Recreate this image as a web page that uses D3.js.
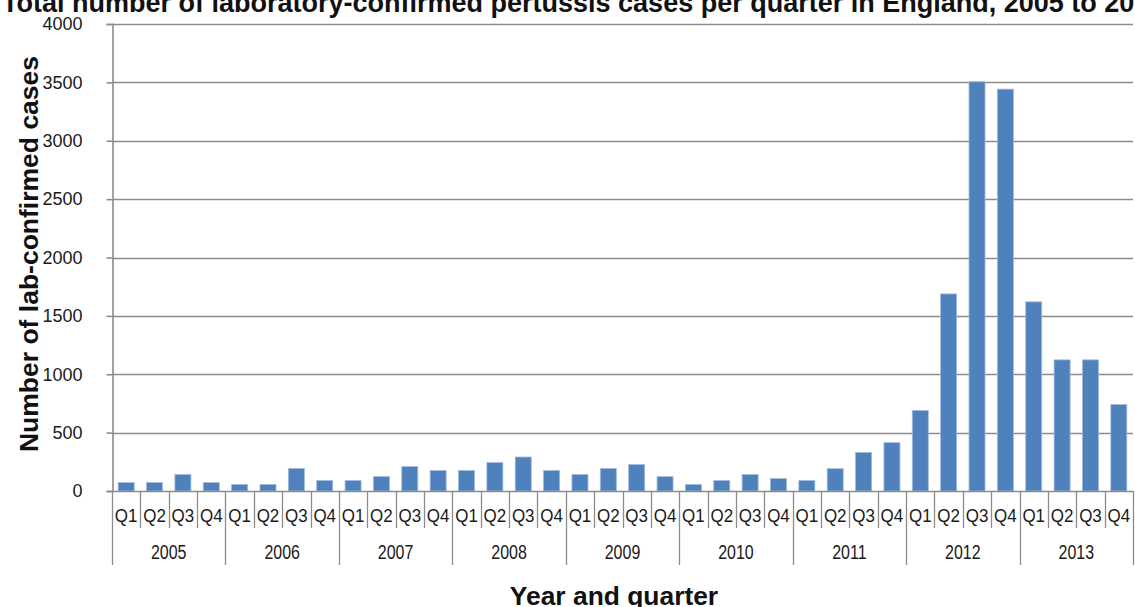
<!DOCTYPE html>
<html>
<head>
<meta charset="utf-8">
<script src="https://cdn.jsdelivr.net/npm/d3@7"></script>
<style>
  html, body { margin: 0; padding: 0; background: #fff; overflow: hidden; }
  svg { display: block; font-family: Arial, "Liberation Sans", sans-serif; }
</style>
</head>
<body>
<svg id="chart" width="1135" height="607"></svg>
<script>
// Laboratory-confirmed pertussis cases, England, by quarter
const years = ["2005", "2006", "2007", "2008", "2009", "2010", "2011", "2012", "2013"];
const quarters = ["Q1", "Q2", "Q3", "Q4"];
const cases = [
  72, 72, 141, 72,       // 2005
  55, 55, 192, 89,       // 2006
  89, 123, 209, 175,     // 2007
  175, 243, 291, 175,    // 2008
  141, 192, 226, 123,    // 2009
  55, 89, 141, 106,      // 2010
  89, 191, 329, 414,     // 2011
  689, 1688, 3505, 3442, // 2012
  1620, 1123, 1123, 740  // 2013
];
const yTicks = [0, 500, 1000, 1500, 2000, 2500, 3000, 3500, 4000];

const chartTitle = "Total number of laboratory-confirmed pertussis cases per quarter in England, 2005 to 2013";
const yTitle = "Number of lab-confirmed cases";
const xTitle = "Year and quarter";

const rows = [];
years.forEach((yr, yi) => quarters.forEach((q, qi) => {
  rows.push({ key: yr + "-" + q, year: yr, quarter: q, value: cases[yi * 4 + qi] });
}));

const svg = d3.select("#chart");
const plot = { left: 112, right: 1133, top: 24, bottom: 491 };
const gridColor = "#8c8c8c";
const labelColor = "#1a1a1a";

const pad = 0.436;
const x = d3.scaleBand()
  .domain(rows.map(d => d.key))
  .range([plot.left, plot.right])
  .paddingInner(pad)
  .paddingOuter(pad / 2);

const y = d3.scaleLinear()
  .domain([0, 4000])
  .range([plot.bottom, plot.top]);

// Title (runs off the top and right edges of the canvas)
svg.append("text")
  .attr("x", 2)
  .attr("y", 12)
  .attr("font-size", 27)
  .attr("font-weight", "bold")
  .attr("fill", "#111")
  .text(chartTitle);

// Horizontal gridlines
svg.append("g")
  .selectAll("line")
  .data(yTicks.filter(t => t > 0))
  .join("line")
  .attr("x1", plot.left)
  .attr("x2", plot.right)
  .attr("y1", d => Math.round(y(d)) + 0.5)
  .attr("y2", d => Math.round(y(d)) + 0.5)
  .attr("stroke", gridColor)
  .attr("stroke-width", 1.6);

// Y axis
const yAxis = d3.axisLeft(y)
  .tickValues(yTicks)
  .tickSize(6)
  .tickPadding(24)
  .tickFormat(d3.format("d"));

const gy = svg.append("g")
  .attr("transform", `translate(${plot.left + 0.5},0)`)
  .call(yAxis);
gy.select(".domain").attr("stroke", gridColor).attr("stroke-width", 1.6);
gy.selectAll(".tick line").attr("stroke", gridColor).attr("stroke-width", 1.6);
gy.selectAll(".tick text")
  .attr("font-size", 18)
  .attr("font-family", "Arial, 'Liberation Sans', sans-serif")
  .attr("fill", labelColor);

// Bars
svg.append("g")
  .selectAll("rect")
  .data(rows)
  .join("rect")
  .attr("x", d => x(d.key))
  .attr("width", x.bandwidth())
  .attr("y", d => y(d.value))
  .attr("height", d => y(0) - y(d.value))
  .attr("fill", "#4f81bd")
  .attr("stroke", "#9fb9dc")
  .attr("stroke-width", 0.8);

// X axis baseline
svg.append("line")
  .attr("x1", plot.left)
  .attr("x2", plot.right)
  .attr("y1", plot.bottom + 0.5)
  .attr("y2", plot.bottom + 0.5)
  .attr("stroke", gridColor)
  .attr("stroke-width", 1.6);

// Category separators: short between quarters, long between years
const step = x.step();
const qRowY = 516, yearRowY = 552;
const sepShort = 528, sepLong = 565;
const boundaries = d3.range(rows.length + 1);
svg.append("g")
  .selectAll("line")
  .data(boundaries)
  .join("line")
  .attr("x1", i => Math.round(plot.left + i * step) + 0.5)
  .attr("x2", i => Math.round(plot.left + i * step) + 0.5)
  .attr("y1", plot.bottom)
  .attr("y2", i => (i % 4 === 0 ? sepLong : sepShort))
  .attr("stroke", gridColor)
  .attr("stroke-width", 1.3);

// Quarter labels (slightly tall, narrow lettering)
svg.append("g")
  .selectAll("text")
  .data(rows)
  .join("text")
  .attr("transform", d => `translate(${x(d.key) + x.bandwidth() / 2},${qRowY}) scale(1,1.12)`)
  .attr("text-anchor", "middle")
  .attr("dominant-baseline", "central")
  .attr("font-size", 17)
  .attr("fill", labelColor)
  .text(d => d.quarter);

// Year labels centred under each group of four quarters
svg.append("g")
  .selectAll("text")
  .data(years)
  .join("text")
  .attr("transform", (yr, i) => `translate(${plot.left + (i * 4 + 2) * step},${yearRowY}) scale(0.94,1.15)`)
  .attr("text-anchor", "middle")
  .attr("dominant-baseline", "central")
  .attr("font-size", 17)
  .attr("fill", labelColor)
  .text(d => d);

// Axis titles
svg.append("text")
  .attr("transform", `translate(38, 254) rotate(-90)`)
  .attr("text-anchor", "middle")
  .attr("font-size", 26.5)
  .attr("font-weight", "bold")
  .attr("fill", "#111")
  .text(yTitle);

svg.append("text")
  .attr("x", 614)
  .attr("y", 605)
  .attr("text-anchor", "middle")
  .attr("font-size", 26.4)
  .attr("font-weight", "bold")
  .attr("fill", "#111")
  .text(xTitle);
</script>
</body>
</html>
